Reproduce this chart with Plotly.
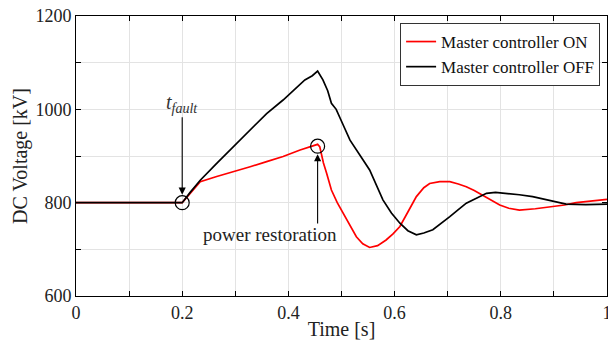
import plotly.graph_objects as go

t_on = [0, 0.05, 0.1, 0.15, 0.2, 0.215, 0.234, 0.265, 0.296, 0.328, 0.359, 0.39, 0.422, 0.445, 0.455, 0.459, 0.466, 0.472, 0.481, 0.492, 0.503, 0.516, 0.528, 0.54, 0.553, 0.568, 0.584, 0.597, 0.61, 0.625, 0.641, 0.655, 0.666, 0.685, 0.704, 0.72, 0.735, 0.75, 0.766, 0.782, 0.798, 0.815, 0.835, 0.865, 0.898, 0.92, 0.942, 0.97, 1.0]
v_on = [800, 800, 800, 800, 800, 820, 845, 856, 866, 877, 888, 899, 913, 921, 925, 920, 885, 863, 827, 800, 777, 749, 727, 712, 704, 708, 720, 733, 749, 780, 813, 832, 841, 845, 845, 840, 834, 826, 816, 806, 795, 788, 784, 787, 791, 795, 800, 803, 807]

t_off = [0, 0.05, 0.1, 0.15, 0.2, 0.215, 0.234, 0.265, 0.296, 0.328, 0.359, 0.39, 0.431, 0.445, 0.455, 0.465, 0.474, 0.481, 0.49, 0.503, 0.516, 0.541, 0.553, 0.578, 0.594, 0.61, 0.625, 0.641, 0.655, 0.672, 0.69, 0.704, 0.72, 0.735, 0.755, 0.773, 0.79, 0.81, 0.835, 0.86, 0.89, 0.923, 0.96, 1.0]
v_off = [800, 800, 800, 800, 800, 822, 848, 884, 920, 956, 991, 1020, 1063, 1072, 1082, 1063, 1040, 1013, 1000, 967, 934, 891, 870, 806, 778, 756, 740, 731, 735, 742, 757, 770, 785, 799, 810, 820, 822, 820, 817, 813, 805, 797, 796, 797]

event_t = [0.2, 0.455]
event_v = [800, 921]

x_tickvals = [0, 0.1, 0.2, 0.3, 0.4, 0.5, 0.6, 0.7, 0.8, 0.9, 1.0]
x_ticktext = ["0", "", "0.2", "", "0.4", "", "0.6", "", "0.8", "", "1"]
y_tickvals = [600, 700, 800, 900, 1000, 1100, 1200]
y_ticktext = ["600", "", "800", "", "1000", "", "1200"]

FONT = "'Liberation Serif', 'Times New Roman', serif"

fig = go.Figure()
fig.add_trace(go.Scatter(x=t_on, y=v_on, mode="lines", name="Master controller ON",
                         line=dict(color="#ff0000", width=1.7)))
fig.add_trace(go.Scatter(x=t_off, y=v_off, mode="lines", name="Master controller OFF",
                         line=dict(color="#000000", width=1.7)))
fig.add_trace(go.Scatter(x=event_t, y=event_v, mode="markers", showlegend=False,
                         marker=dict(symbol="circle-open", size=14, color="black",
                                     line=dict(width=1.2, color="black"))))

fig.add_annotation(x=0.2, y=800, ax=0.2, ay=1013, axref="x", ayref="y",
                   text="<i>t</i><sub><i>fault</i></sub>", showarrow=True,
                   arrowhead=2, arrowsize=1.3, arrowwidth=1.1, arrowcolor="black",
                   standoff=8, font=dict(family=FONT, size=20, color="#333"))
fig.add_annotation(x=0.365, y=731, text="power restoration", showarrow=False,
                   font=dict(family=FONT, size=19, color="#222"))
fig.add_annotation(x=0.455, y=921, ax=0.455, ay=752, axref="x", ayref="y",
                   text="", showarrow=True, arrowhead=2, arrowsize=1.3,
                   arrowwidth=1.1, arrowcolor="black", standoff=8)

axis_common = dict(showline=True, linecolor="black", linewidth=1, mirror="ticks",
                   ticks="inside", ticklen=5, tickcolor="black", automargin=False,
                   showgrid=True, gridcolor="#e3e3e3", gridwidth=1, zeroline=False,
                   ticklabeloverflow="allow",
                   tickfont=dict(family=FONT, size=18, color="#222"))

fig.update_xaxes(range=[0, 1], tickvals=x_tickvals, ticktext=x_ticktext,
                 title=dict(text="Time [s]", font=dict(family=FONT, size=20, color="#222"), standoff=0),
                 **axis_common)
fig.update_yaxes(range=[600, 1200], tickvals=y_tickvals, ticktext=y_ticktext,
                 title=dict(text="DC Voltage [kV]", font=dict(family=FONT, size=20, color="#222"), standoff=2),
                 **axis_common)

fig.update_layout(
    width=608, height=345,
    margin=dict(l=76, r=1, t=16, b=49),
    plot_bgcolor="white", paper_bgcolor="white",
    font=dict(family=FONT, size=17, color="#111"),
    legend=dict(x=0.987, y=0.975, xanchor="right", yanchor="top",
                bgcolor="white", bordercolor="#333", borderwidth=1,
                font=dict(family=FONT, size=17, color="#111"),
                tracegroupgap=0, itemwidth=30),
)

fig.write_html("out.html", config={"displayModeBar": False},
               post_script="document.body.style.margin='0';document.body.style.overflow='hidden';")
